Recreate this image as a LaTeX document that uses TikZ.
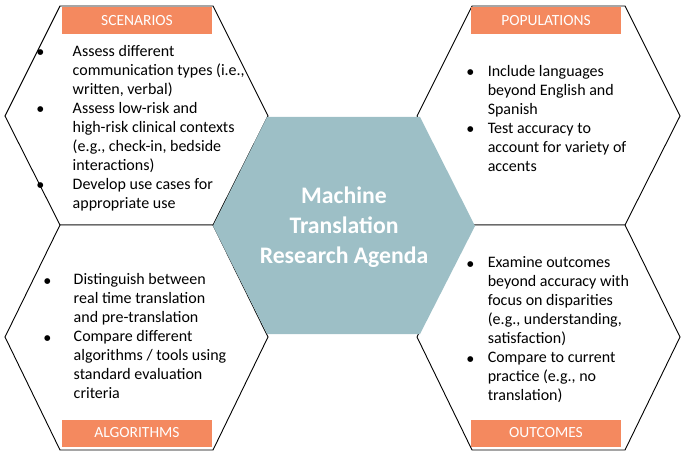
\documentclass[tikz,border=0pt]{standalone}
\usepackage{fontspec}
\setmainfont{Carlito}
\newfontfamily\symf{DejaVu Sans}
\begin{document}
\begin{tikzpicture}[x=1pt,y=-1pt,
  hex/.style={draw=black,line width=0.9pt,fill=white},
  lab/.style={fill=orange1,text=white,minimum width=150pt,minimum height=27pt,inner sep=0pt,font=\fontsize{15.5}{17}\selectfont},
  blk/.style={anchor=north west,inner sep=0pt,font=\fontsize{16}{19}\selectfont}]
\definecolor{orange1}{HTML}{F4895F}
\definecolor{teal1}{HTML}{9DBFC6}
\newcommand{\bl}{\raisebox{1.5pt}{\symf\fontsize{7.5}{10}\selectfont ●}}
\useasboundingbox (0,0) rectangle (685,457);
\draw[hex] (60,6)--(213,6)--(268,116)--(213,225)--(60,225)--(5,116)--cycle;
\draw[hex] (60,225)--(213,225)--(268,337)--(213,450)--(60,450)--(5,337)--cycle;
\draw[hex] (472,6)--(625,6)--(680,116)--(625,225)--(472,225)--(417,116)--cycle;
\draw[hex] (472,225)--(625,225)--(680,337)--(625,450)--(472,450)--(417,337)--cycle;
\path[fill=teal1] (267,117)--(420,117)--(475,226)--(420,334)--(267,334)--(213,226)--cycle;
\node[text=white,font=\bfseries\fontsize{23.7}{30}\selectfont,align=center] (c) at (344,227) {Machine\\Translation\\Research Agenda};
\node[lab] (s) at (137,21) {SCENARIOS};
\node[lab] (p) at (546,21) {POPULATIONS};
\node[lab] (a) at (137,433) {ALGORITHMS};
\node[lab] (o) at (546,433) {OUTCOMES};
\node[blk] (t1) at (37,43) {\begin{tabular}{@{}l@{\hspace{29pt}}l@{}}
\bl & Assess different\\ & communication types (i.e.,\\ & written, verbal)\\
\bl & Assess low-risk and\\ & high-risk clinical contexts\\ & (e.g., check-in, bedside\\ & interactions)\\
\bl & Develop use cases for\\ & appropriate use\end{tabular}};
\node[blk] (t2) at (467,63) {\begin{tabular}{@{}l@{\hspace{14pt}}l@{}}
\bl & Include languages\\ & beyond English and\\ & Spanish\\
\bl & Test accuracy to\\ & account for variety of\\ & accents\end{tabular}};
\node[blk] (t3) at (44,271) {\begin{tabular}{@{}l@{\hspace{23pt}}l@{}}
\bl & Distinguish between\\ & real time translation\\ & and pre-translation\\
\bl & Compare different\\ & algorithms / tools using\\ & standard evaluation\\ & criteria\end{tabular}};
\node[blk] (t4) at (467,254) {\begin{tabular}{@{}l@{\hspace{14pt}}l@{}}
\bl & Examine outcomes\\ & beyond accuracy with\\ & focus on disparities\\ & (e.g., understanding,\\ & satisfaction)\\
\bl & Compare to current\\ & practice (e.g., no\\ & translation)\end{tabular}};
\end{tikzpicture}
\end{document}
